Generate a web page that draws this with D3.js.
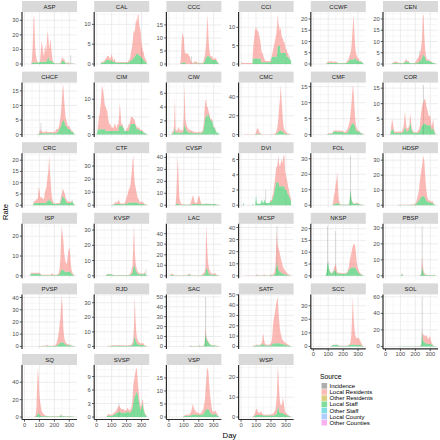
<!DOCTYPE html>
<html><head><meta charset="utf-8">
<script src="https://cdn.jsdelivr.net/npm/d3@7"></script>
<style>body{margin:0;background:#fff}svg{display:block}</style>
</head><body>
<script>
// ---------- DATA ----------
const facilities = ["ASP","CAL","CCC","CCI","CCWF","CEN","CHCF","CIM","CIW","CMC","CMF","COR","CRC","CTF","CVSP","DVI","FOL","HDSP","ISP","KVSP","LAC","MCSP","NKSP","PBSP","PVSP","RJD","SAC","SATF","SCC","SOL","SQ","SVSP","VSP","WSP"];
const tickSteps = [10,5,5,5,5,5, 5,5,2,20,5,5, 5,10,10,2,10,10, 10,10,10,10,5,10, 10,10,10,10,10,20, 20,3,5,10];
const xTicks = [0,100,200,300];
const sources = ["Incidence","Local Residents","Other Residents","Local Staff","Other Staff","Local County","Other Counties"];
const sourceColors = ["#999999","#F8766D","#B79F00","#00BA38","#00BFC4","#619CFF","#F564E3"];
const days = d3.range(0, 340, 5); // observation days (every 5 days, 0..335)

const res_ASP=[0,0,0,0,0,0,0,0,0,0, 2.5,11,29,33,14,6,3,1,0,0, 0,1.5,8.5,14.5,10.5,6.5,3.5,8.5,11.5,6.5, 13,19,13,7,12,15,8,3,1,0, 0.2,0.2,0.2,0.2,0.2,0.2,0.2,0.2,0.7,1.7, 2,3,1,2,1,0.5,0.2,0.7,0.7,0.7, 0.1,0.1,0.1,0.1,0.1,0.1,0.1,0.1];
const staff_ASP=[0,0,0,0,0,0,0,0,0,0, 0.5,1,1,1,1,1,1,1,1,1, 1,1.5,1.5,1.5,1.5,1.5,1.5,1.5,1.5,1.5, 2,4,5,3,2,2,2,2,1,1, 0.3,0.3,0.3,0.3,0.3,0.3,0.3,0.3,0.3,0.3, 2,2,2,2,1,0.5,0.3,0.3,0.3,0.3, 0.2,0.2,0.2,0.2,0.2,0.2,0.2,0.2];
const res_CAL=[0,0,0,0,0,0,0.2,0.2,0.3,0.3, 0.3,0.5,0.5,0.5,1,1,1,0.5,0.5,1, 1.5,1,0.5,0.5,1,0.3,0.2,0.2,0.2,0.2, 0.2,0.2,0.2,0.2,0.2,0.2,0.2,0.2,0.2,0.2, 0.2,0.2,0.3,0.5,0.5,1,2,3,4,6, 7,6,8,9,8,10,10,8,7,6, 4,3,2,2,1,1,0.5,0.5];
const staff_CAL=[0,0,0,0,0,0,0.2,0.3,0.3,0.3, 0.5,0.5,0.8,1,1,1,1,1,0.8,0.8, 1,0.8,0.5,0.5,0.5,0.3,0.3,0.3,0.3,0.3, 0.3,0.3,0.3,0.3,0.3,0.3,0.3,0.3,0.3,0.3, 0.3,0.3,0.3,0.5,0.5,0.8,1,1,1.2,1.5, 1.5,2,2,2.5,2.5,2.5,2.5,2,2,2, 1.5,1.5,1.2,1,0.8,0.5,0.3,0.3];
const res_CCC=[0,0,0,0,0,0,0,0,0,0, 0,0,0,0,0,0,2,7.5,11.5,10.5, 9.5,4.5,3.5,4,4,4,4,3,3,1.5, 1,0.5,0.3,0.3,0.8,0.8,0.8,0.8,0.3,0.3, 0.3,0.3,0.3,0.3,0.3,0.3,0.3,1.5,2,3, 5.5,11,16,7,3,1.5,0.5,1.5,1.5,0.5, 0.5,0.5,0.5,1,0.3,0.3,0.3,0.1];
const staff_CCC=[0,0,0,0,0,0,0,0,0,0, 0,0,0,0,0,0,0,0.5,0.5,0.5, 0.5,0.5,0.5,0,0,0,0,0,0,0, 0,0,0.2,0.2,0.2,0.2,0.2,0.2,0.2,0.2, 0.2,0.2,0.2,0.2,0.2,0.2,0.2,0.5,1,2, 2.5,3,3,3,3,2.5,2.5,1.5,1.5,1.5, 1.5,1.5,1.5,1.5,1.2,0.7,0.2,0.2];
const res_CCI=[0.3,0.5,0.3,0.3,0.3,0.3,0.3,0.3,0.3,0.3, 0.3,0.3,0.3,0.3,0.3,0.3,2.5,4.5,6.5,8.5, 7.5,8.5,7.5,7.5,6.5,5.5,4.5,3.5,2.5,2.5, 1.5,1,0.5,0.3,0.3,0.3,0.3,0.3,0.3,0.3, 1,0,1,2,3,4,5,6,8,8.5, 6,5,4,7,5,4,4,3,3,2, 1,2,1,1,0.5,0.5,0,0];
const staff_CCI=[0.2,0,0,0,0,0,0,0,0,0, 0,0,0,0,0,0,1.5,1.5,1.5,1.5, 1.5,1.5,1.5,1.5,1.5,1.5,1.5,0.5,0.5,0.5, 0.5,0.5,0.5,0.5,0.5,0.5,0.5,0.5,0.5,0.5, 0.5,2,2,2,2,2,2,2,2,5, 5,5,5,3,3,3,3,3,3,3, 3,2,2,2,1.5,1.5,1,1];
const res_CCWF=[0,0,0,0,0,0,0,0,0,0, 0,0,0,0,0,0,0,0,0.2,0.5, 0.8,0.5,0.5,0.8,0.8,0.5,0.5,0.3,0.5,0.8, 0.5,0.3,0.5,0.2,0.2,0.2,0.2,0.2,0.2,0.2, 0.2,0.2,0.2,0.2,0.3,0.5,1,1,1.5,2, 3,5,10,15,20,12,6,3,2,1.5, 1,1,0.5,0.5,0.3,0.2,0.1,0.1];
const staff_CCWF=[0,0,0,0,0,0,0,0,0,0, 0,0,0,0,0,0,0,0,0.2,0.3, 0.5,0.5,0.5,0.5,0.5,0.5,0.5,0.5,0.5,0.5, 0.5,0.5,0.5,0.3,0.3,0.3,0.3,0.3,0.3,0.3, 0.3,0.3,0.3,0.3,0.5,0.5,0.8,1,1.5,2, 2,2,2,2,2,2.5,2.5,2,2,1.5, 1.5,1.5,1,1,1,0.8,0.5,0.3];
const res_CEN=[0,0,0,0,0,0,0,0,0,0.2, 0.3,0.5,0.8,0.5,0.5,0.5,0.5,0.5,0.3,0.3, 0.3,0.2,0.2,0.2,0.3,0.5,0.5,0.8,1,0.5, 0.3,0.5,0.2,0.2,0.2,0.2,0.2,0.2,0.2,0.2, 0.5,1,1.5,2,2,3,3,4,6,9, 17,18,9,4,2,1,0.5,0.5,0.5,0.3, 0.3,0.2,0.2,0.2,0.1,0.1,0.1,0.1];
const staff_CEN=[0,0,0,0,0,0,0,0,0,0.2, 0.3,0.3,0.5,0.5,0.5,0.5,0.3,0.3,0.3,0.3, 0.3,0.3,0.3,0.3,0.3,0.5,0.8,1,1.2,1, 0.8,1,0.5,0.3,0.3,0.3,0.3,0.3,0.3,0.3, 0.3,0.3,0.5,0.5,0.8,1,1,1.5,2,2.5, 4,4,3.5,3,2,1.5,1.5,1.5,1.5,1.2, 1,1,0.8,0.5,0.5,0.3,0.3,0.2];
const res_CHCF=[0,0,0,0,0,0,0,0,0,0, 0,0,0,0,0,0,0,0,0,0, 0.5,1.5,0.5,1,0.3,0.3,0.5,0.3,0.5,1, 0.5,0.3,0.5,0.3,0.3,0.5,0.3,0.5,0.3,0.5, 0.5,0.5,1,1.5,1,1,1,2,3,5, 7,11,12,8,5,3,2,1.5,1,1, 1,0.5,0.5,0.3,0.3,0.2,0.1,0.1];
const staff_CHCF=[0,0,0,0,0,0,0,0,0,0, 0,0,0,0,0,0,0,0,0.2,0.2, 0.5,0.5,0.5,0.5,0.5,0.5,0.5,0.5,0.5,0.5, 0.5,0.5,0.5,0.5,0.5,0.5,0.5,0.5,0.5,0.5, 0.5,0.5,0.5,0.5,0.8,1,1.5,2,2.5,3, 4,4.5,5,4.5,4,3,3,2.5,2,2, 2,1.5,1.5,1,1,0.8,0.5,0.3];
const res_CIM=[0,0,1.5,3.5,4.5,6.5,8.5,12.5,11.5,10.5, 8.5,6.5,7,6,6,4,3,2,2,1.5, 1,1,1,1,2,2,1,1,2,2, 2.5,6.5,3.5,0.5,0.5,0.5,0,0.5,0,0, 0.5,1,1,2,1,1.5,2,2,2,1.5, 1.5,1,0.5,0.5,0.5,0.5,0.5,0.5,0.5,0.3, 0.3,0.3,0.2,0.2,0.1,0.1,0.1,0.1];
const staff_CIM=[0,1,1.5,1.5,1.5,1.5,1.5,1.5,1.5,1.5, 1.5,1.5,1,1,1,1,1,1,1,1, 1,1,1,1,1,1,1,1,1,1, 2.5,2.5,2.5,2.5,2.5,2,2,1,1,1, 1,1,1,1,2,2.5,3,3,3,3, 3,3,2.5,2,1.5,1.5,1.5,1.5,1,1, 1,1,0.8,0.5,0.5,0.3,0.3,0.3];
const res_CIW=[0,0,0,0,0.2,0.3,0.3,1,4.3,0.5, 0.3,0.3,0.5,0.8,0.5,0.3,0.5,0.3,0.3,0.5, 2,5.7,1.5,0.8,0.8,0.5,0.5,0.3,0.5,0.3, 0.3,0.3,0.2,0.3,0.2,0.1,0.2,0.2,0.1,0.1, 0.2,0.2,0.2,0.1,0.2,0.3,0.5,1,2,2.5, 2,1.5,1,0.5,0.5,0.3,0.2,0.3,0.2,0.2, 0.1,0.1,0.1,0.1,0,0,0,0];
const staff_CIW=[0,0,0,0,0.1,0.2,0.2,0.5,1,0.3, 0.3,0.3,0.3,0.3,0.3,0.2,0.3,0.3,0.3,0.3, 0.8,1.5,1,0.8,0.5,0.5,0.3,0.3,0.3,0.3, 0.3,0.3,0.2,0.2,0.2,0.2,0.2,0.2,0.2,0.2, 0.2,0.2,0.2,0.2,0.3,0.3,0.5,1,2,2.5, 3,2.5,3,3,2.5,2.5,2,2,2,1.5, 1,1,0.8,0.5,0.3,0.3,0.2,0.2];
const res_CMC=[0,0,0,0,0.2,0.3,0.2,0.2,0.2,0.2, 0.2,0.2,0.2,0.2,0.2,0.2,0.2,0.2,0.3,0.5, 2,4,6,5,3,1.5,1,0.5,0.3,0.3, 0.3,0.3,0.3,0.3,0.3,0.3,0.3,0.3,0.3,0.3, 0.3,0.3,0.3,0.3,0.5,0.5,1,2,4,8, 14,25,33,48,35,25,12,6,4,3, 2,1.5,1,1,0.5,0.5,0.3,0.3];
const staff_CMC=[0,0,0,0,0.1,0.1,0.1,0.1,0.1,0.1, 0.1,0.1,0.1,0.1,0.1,0.1,0.1,0.1,0.1,0.1, 0.5,1,1,1,0.8,0.5,0.3,0.3,0.2,0.2, 0.2,0.2,0.2,0.2,0.2,0.2,0.2,0.2,0.2,0.2, 0.2,0.2,0.2,0.2,0.3,0.3,0.5,1,1.5,2, 3,3.5,4,4.5,4,3.5,3,2,1.5,1, 1,0.8,0.5,0.5,0.3,0.3,0.2,0.2];
const res_CMF=[0,0,0,0,0,0,0,0,0,0, 0,0,0,0,0,0,0,0,0,0, 0.2,0.2,0.2,0.2,0.2,0.2,0.2,0.3,0.3,0.3, 0.3,0.5,0.3,0.3,0.5,0.3,0.3,0.5,0.3,0.3, 0.3,0.3,0.3,0.5,0.5,1,1,1.5,2,2.5, 4,6,9,12,10,6,3,1.5,1,0.5, 0.5,0.3,0.3,0.2,0.2,0.1,0.1,0.1];
const staff_CMF=[0,0,0,0,0,0,0,0,0,0, 0,0,0,0,0,0,0,0,0.1,0.1, 0.2,0.2,0.3,0.3,0.3,0.3,0.5,0.8,1,1, 1,1,0.8,0.8,1,1,0.8,0.8,0.8,1, 0.8,0.5,0.5,0.5,0.5,0.5,0.8,1,1.5,2, 2.5,3,3.5,3.5,3.5,3,2.5,1.5,1.2,1, 1,0.8,0.8,0.5,0.5,0.3,0.3,0.2];
const res_COR=[0,0,0,0,0,0,0,0.5,2,3, 2,1,0.5,0.5,0.5,0.5,0.5,0.5,0.5,0.5, 0.5,0.5,0.5,1,1,3,5,3,1.5,1, 1,1,1,3,2,1,0.5,0.5,0.3,0.3, 0.3,0.3,0.3,0.5,1,1,2,4,5,6, 7,7,8,8,7,6,5,4,3,3, 3,2,1,2,3,1,0.5,0.3];
const staff_COR=[0,0,0,0,0,0,0,0.5,1.5,2, 1.5,1,0.5,0.5,0.5,0.5,0.5,0.5,0.5,0.5, 0.5,0.5,0.5,0.8,1,1.5,2.5,2,1,1, 1,1.5,2,4,3,1.5,1,0.8,0.5,0.5, 0.5,0.5,0.5,0.5,0.5,0.8,1,1.5,2.5,3, 3,3.5,3.5,3.5,3.5,3,3,3,3,3, 3,2,1.5,2,2,1,0.5,0.3];
const res_CRC=[0,0,0,0,0,0,0,0,0,0, 0,0,0.5,1,1,1,1.5,2,2,7, 6,3,2,3,2,2,1.5,4,6,6, 8,11,13,19,14,9,4,2,1,0.5, 0.3,0.3,0.3,0.5,0.5,0.5,0.5,0.5,1,2, 2,3,3,3,2,1.5,1,1,1,0.5, 0.5,0.5,0.5,0.3,0.3,0.2,0.1,0.1];
const staff_CRC=[0,0,0,0,0,0,0,0,0,0, 0,0,0.5,1,1,1,1,1,1,1, 1,1,1,1,1,1,1,1,1,1, 1.5,2,2,3,2,2,1.5,1,1,0.5, 0.5,0.5,0.5,0.5,0.5,0.5,0.5,0.5,1,2, 3,4,4,3,3,2,1.5,1,1,1, 1,1,1,1.5,2,1,0.5,0.3];
const res_CTF=[0,0,0,0,0,0,0,0,0,0, 0,0,0,0,0,0,0,0,0,0, 0.2,0.2,0.3,0.5,1,1.5,1.5,1,1.5,3, 2.5,1,0.5,0.5,0.5,0.5,0.5,0.5,1,3, 5,6,8,10,11,13,18,24,32,36, 22,15,12,9,6,4,3,2,1.5,1, 1.5,2,1.5,1,0.5,0.5,0.3,0.3];
const staff_CTF=[0,0,0,0,0,0,0,0,0,0, 0,0,0,0,0,0,0,0,0,0, 0.2,0.2,0.3,0.5,0.8,0.8,1,1,1,1, 1,1,0.8,0.8,0.8,0.8,0.8,0.8,1,1, 1,1.5,1.5,2,2,2,2,2,2,2, 2,2,2,2,2,1.5,1.5,1.2,1,1, 1,1,1,0.8,0.5,0.5,0.3,0.3];
const res_CVSP=[0,0,0,0,0,0,0,0,0,0.5, 8,25,40,20,6,3,1.5,1,0.5,0.5, 0.3,0.3,0.3,0.3,0.3,0.3,0.3,0.3,0.5,1, 3,5,7,6,3,1.5,1,1,2,5, 7,6,3,1,0.5,0.3,0.3,0.3,0.3,0.3, 0.3,0.3,0.3,0.3,0.3,0.3,0.3,0.3,0.3,0.3, 0.3,0.3,0.2,0.2,0.2,0.1,0.1,0.1];
const staff_CVSP=[0,0,0,0,0,0,0,0,0,0.2, 1,1.5,1.5,1,0.5,0.3,0.3,0.3,0.3,0.3, 0.3,0.3,0.3,0.3,0.3,0.3,0.3,0.3,0.3,0.3, 0.5,1,1,1,1,0.8,0.8,0.8,1,1, 1,1,1,1,0.8,0.8,0.8,0.8,1,1, 1,1,1,1,1,1,0.8,0.8,0.8,0.8, 1,1,0.8,0.8,0.5,0.5,0.3,0.3];
const res_DVI=[0,0,0,0,0,0,0,0,0,0, 0,0,0,0,0,0,0,0,0,0, 0,0,0,0,0,0,0,0,0,0, 0,0,0,0,0,0,0,0,0,0.2, 0.2,0.2,0.5,0.5,1,1,1.5,2,2,2.5, 3.5,3,2.5,3,3.5,3,3.5,4,4,2.5, 2,1.5,1.5,1,0.8,0.5,0.3,0.3];
const staff_DVI=[0,0,0,0.3,0,0,0,0,0,0, 0,0,0,0,0,0,0.2,0,0,0, 1.3,0.3,0.2,0.2,0.2,0.2,0.2,0.5,0.8,0.3, 0.3,0.8,0.5,0.3,0.3,0.3,0.3,0.3,0.3,0.5, 0.5,0.5,0.8,1,1.5,2,2.5,3,3,3, 3,2.5,2.5,2.5,2.5,2.5,2.5,2.5,2.5,2, 2,2,1.5,1.5,1.2,1,0.8,0.5];
const res_FOL=[0,0,0,0,0,0,0,0,0,0, 0,0,0,0,0,0,0,0,0,0, 0,0,0,0,0,0,0.5,3,6,8, 13,15,20,12,4,1,0.3,0.3,0.2,0.2, 0.2,0.2,0.2,0.2,0.2,0.2,0.2,0.2,0.2,0.5, 0.5,1,0.5,0.5,0.3,0.3,0.3,0.5,0.5,0.5, 0.5,0.3,0.3,0.2,0.2,0.1,0.1,0.1];
const staff_FOL=[0,0,0,0,0,0,0,0,0,0, 0,0,0,0,0,0,0,0,0,0, 0,0,0,0,0,0,0.2,0.5,1,1, 1,1,1.5,1.5,1,0.8,0.3,0.3,0.3,0.3, 0.3,0.3,0.3,0.3,0.3,0.3,0.3,0.3,0.5,5, 9.5,4,2,1.5,1,0.8,0.8,1,1.2,1, 0.8,0.8,0.5,0.5,0.3,0.3,0.2,0.2];
const res_HDSP=[0,0,0,0,0,0,0,0,0,0, 0,0,0,0,0,0,0,0.2,0.2,0.2, 0.2,0.2,0.2,0.2,0.2,0.2,0.2,0.2,0.2,0.2, 0.2,0.2,0.2,0.2,0.2,0.2,0.2,0.2,0.3,0.5, 0.5,1,2,4,5,8,12,15,18,20, 24,27,24,16,10,6,3,2,1.5,1, 1,1,1,1.5,0.5,0.3,0.2,0.1];
const staff_HDSP=[0,0,0,0,0,0,0,0,0,0, 0,0,0,0,0,0,0,0.1,0.1,0.1, 0.1,0.1,0.1,0.1,0.1,0.1,0.1,0.1,0.1,0.1, 0.1,0.1,0.1,0.1,0.2,0.2,0.2,0.2,0.3,0.5, 0.5,1,1.5,2,3,3,4,5,5.5,6, 6,6,5.5,5,4,3,2.5,2,2,2, 2,1.5,1.5,1.5,1,0.5,0.3,0.2];
const res_ISP=[0,0,0,0,0,0,0,0,0.3,0.5, 0.5,0.5,0.5,0.5,0.5,0.5,0.5,0.5,0.5,0.5, 0.5,0.5,0.3,0.2,0.2,0.2,0.2,0.2,0.2,0.2, 0.2,0.2,0.2,0.2,0.2,0.3,0.5,1,0.5,0.3, 0.3,0.3,0.3,0.3,0.5,0.5,1,3,6,15, 22,18,15,10,7,5,4,5,8,11, 12,10,5,2,1,0.5,0.3,0.2];
const staff_ISP=[0,0,0,0,0,0,0,0,0.5,1, 1,1,1,1,1,1,1,1,1,1, 1,0.8,0.5,0.3,0.3,0.3,0.3,0.3,0.3,0.3, 0.3,0.3,0.3,0.3,0.3,0.3,0.3,0.5,0.3,0.3, 0.3,0.3,0.3,0.3,0.3,0.5,0.5,1,2,3, 3,3,3,2.5,2,2,2,2,2,2, 2,2,1.5,1,0.8,0.5,0.3,0.2];
const res_KVSP=[0,0,0,0,0,0,0,0,0,0, 0,0,0,0.2,0.3,0.3,0.3,0.3,0.3,0.3, 0.3,0.3,0.2,0.2,0.2,0.2,0.2,0.2,0.2,0.2, 0.2,0.2,0.2,0.2,0.2,0.2,0.2,0.2,0.2,0.2, 0.2,0.2,0.3,0.3,0.5,1,1.5,3,5,14, 25,10,5,3,2,1.5,1,1,0.5,0.5, 0.5,0.5,0.5,0.3,0.8,0.3,0.2,0.1];
const staff_KVSP=[0,0,0,0,0,0,0,0,0,0, 0,0,0,0.5,0.8,1,1,1,1,0.8, 0.8,0.5,0.5,0.3,0.3,0.3,0.3,0.3,0.3,0.3, 0.3,0.3,0.3,0.3,0.3,0.3,0.3,0.3,0.3,0.3, 0.3,0.3,0.3,0.3,0.5,0.5,1,1.5,2,5, 7.5,6,4,3,2,1.5,1,1,1,1, 1,1,1,1,2,0.8,0.5,0.3];
const res_LAC=[0,0,0.5,1,1.5,1,0.8,0.5,0.3,0.3, 0.3,0.3,0.3,0.3,0.3,0.3,0.3,0.3,0.3,0.3, 0.3,0.3,0.3,0.3,0.3,0.5,0.8,1,1,0.5, 0.3,0.3,0.3,0.3,0.3,0.3,0.3,0.3,0.3,0.3, 0.3,0.3,0.3,0.3,0.5,1,1.5,2,3,5, 40,25,12,7,4,3,2,1.5,1,1, 1,1.5,2,1,0.5,0.5,0.3,0.2];
const staff_LAC=[0,0,0.5,1,1,0.8,0.5,0.3,0.2,0.2, 0.2,0.2,0.2,0.2,0.2,0.2,0.2,0.2,0.2,0.2, 0.2,0.2,0.2,0.2,0.3,0.5,0.8,1,1,0.5, 0.3,0.3,0.3,0.3,0.3,0.3,0.3,0.3,0.3,0.3, 0.3,0.3,0.3,0.3,0.5,0.5,0.8,1,1.5,3, 7,7,5,3,2,1.5,1,1,1,1, 1,1,1,0.8,0.5,0.3,0.3,0.2];
const res_MCSP=[0,0,0,0,0,0.2,0.2,0.2,0.2,0.2, 0.2,0.2,0.2,0.2,0.2,0.2,0.2,0.2,0.2,0.2, 0.3,0.5,0.8,0.5,0.3,0.3,0.3,0.3,0.3,0.3, 0.5,0.8,0.5,0.3,0.3,0.3,0.3,0.3,0.3,0.5, 0.8,0.5,0.5,0.8,1,3,6,18,24,18, 18,17,15,12,10,8,6,5,4,3, 2.5,2,1.5,1,0.8,0.5,0.3,0.2];
const staff_MCSP=[0,0,0,0,0,0.1,0.1,0.1,0.1,0.1, 0.1,0.1,0.1,0.1,0.1,0.1,0.1,0.1,0.1,0.1, 0.2,0.3,0.5,0.3,0.2,0.2,0.2,0.2,0.2,0.2, 0.3,0.5,0.3,0.2,0.2,0.2,0.2,0.2,0.2,0.3, 0.5,0.3,0.3,0.5,0.8,1,2,6,12,7, 5,4,3.5,3,2.5,2,1.5,1.5,1,1, 1,0.8,0.5,0.5,0.3,0.3,0.2,0.2];
const res_NKSP=[0,0,0,0,0,0,0,0,0,0, 0,0,0,0,0,0,0,0,0,0.2, 0.5,0.3,0.2,0.2,0.2,0.3,0.5,0.5,1,2, 3,1.5,0.5,0.5,0.3,0.3,0.3,0.3,0.3,0.3, 0.3,0.3,0.3,0.3,0.3,0.5,0.5,1,2,4, 5,6,8,9,10,10,9,7,4,2, 1.5,1,0.5,0.5,0.3,0.3,0.2,0.1];
const staff_NKSP=[0,0,0,0,0,0,0,0,0,0, 0,0,0,0,0,0,0,0.5,2,5, 6,3,2,1.5,1,1,1.5,1.5,3,2, 2,1.5,1,1,1,1,1,1,0.8,0.8, 0.8,0.8,0.8,0.8,1,1,1.5,2,2.5,3, 3,3.5,3.5,3.5,3.5,3.5,3.5,3,2.5,2, 1.5,1,1,0.8,0.5,0.3,0.3,0.2];
const res_PBSP=[0,0,0,0,0,0,0,0,0,0, 0,0,0,0,0,0,0,0,0,0, 0,0,0.3,0.3,0,0,0,0,0,0, 0,0,0,0,0,0,0,0,0,0, 0,0,0,0,0,0,0.2,0.3,0.5,6, 3,1.5,1,0.5,0.3,0.3,0.2,0.2,0.2,0.2, 0.2,0.2,0.2,0.1,0.1,0.5,0.1,0.1];
const staff_PBSP=[0,0,0,0,0,0,0,0,0,0, 0,0,0,0,0,0,0,0,0,0, 0,0.3,1.5,0.5,0,0,0,0,0,0, 0,0,0,0,0,0,0,0,0,0, 0,0,0,0,0,0,0.2,0.5,1,6, 3,1.5,1,0.5,0.5,0.5,0.3,0.3,0.3,0.3, 0.3,0.3,0.3,0.3,0.3,0.5,0.3,0.2];
const res_PVSP=[0,0,0,0,0,0,0,0,0,0, 0,0,0,0,0,0,0,0,0,0, 0.2,0.2,0.2,0.2,0.3,0.3,0.3,0.3,0.3,0.5, 1,0.5,0.3,0.3,0.3,0.3,0.3,0.3,0.3,0.3, 0.5,0.5,1,2,4,6,10,15,20,30, 37,28,12,6,3,2,1.5,1,1,0.5, 0.5,0.5,0.5,0.3,0.3,0.2,0.1,0.1];
const staff_PVSP=[0,0,0,0,0,0,0,0,0,0, 0,0,0,0,0,0,0,0,0.1,0.1, 0.2,0.2,0.2,0.2,0.2,0.2,0.2,0.2,0.2,0.2, 0.3,0.3,0.3,0.3,0.3,0.3,0.3,0.3,0.3,0.3, 0.3,0.3,0.5,0.5,1,1.5,2,2.5,3,3, 3.5,3.5,3,2.5,2,1.5,1.2,1,1,1, 1,0.8,0.8,0.5,0.5,0.3,0.3,0.2];
const res_RJD=[0,0,0,0,0,0,0,0,0,0, 0,0,0,0,0,0.2,0.2,0.2,0.2,0.2, 0.3,0.3,0.3,0.5,0.3,0.5,0.3,0.3,0.5,0.3, 0.5,0.3,0.3,0.5,0.3,0.3,0.5,0.3,0.3,0.5, 0.3,0.3,0.3,0.5,0.5,0.5,0.5,1,1.5,3, 8,27,14,7,4,3,2,1.5,1.5,1, 1,1,1.5,1,0.5,0.3,0.2,0.1];
const staff_RJD=[0,0,0,0,0,0,0,0,0,0, 0,0,0,0,0,0.2,0.2,0.2,0.2,0.2, 0.3,0.5,0.3,0.5,0.5,0.3,0.5,0.3,0.5,0.5, 0.5,0.5,0.3,0.5,0.5,0.3,0.5,0.5,0.3,0.3, 0.3,0.3,0.3,0.5,0.5,0.5,0.5,0.8,1,2, 5,7,5,3,2,1.5,1.5,1,1,1, 1,1,1,0.8,0.5,0.3,0.2,0.2];
const res_SAC=[0,0,0,0,0,0,0,0,0,0, 0,0,0,0,0,0,0,0,0,0, 0,0,0,0,0,0,0,0,0.2,0.2, 0.2,0.2,0.2,0.2,0.2,0.2,0.2,0.2,0.2,0.2, 0.3,0.5,0.3,0.2,0.2,0.2,0.3,0.5,1.5,6, 3,2,1.5,1,0.8,0.5,0.5,0.3,0.3,0.2, 0.2,0.2,0.2,0.1,0.1,0.1,0.1,0.1];
const staff_SAC=[0,0,0,0,0,0,0,0,0,0, 0,0,0,0,0,0,0,0,0,0, 0,0,0,0,0,0,0,0.2,0.3,0.5, 0.5,0.3,0.3,0.3,0.3,0.3,0.3,0.3,0.3,0.3, 0.5,1,0.5,0.3,0.3,0.3,0.5,0.8,3,14, 8,6,5,4,3,2,1.5,1.2,1,1, 1,1,0.8,0.8,0.5,0.5,0.3,0.3];
const res_SATF=[0,0,0,0,0,0,0,0,0,0, 0,0,0,0,0,0,0.2,0.3,0.3,0.3, 0.5,0.5,0.5,0.3,0.3,0.5,0.8,1.5,2,8, 10,4,1.5,1,0.5,0.5,0.5,0.5,1,1, 2,4,10,20,25,28,33,38,42,45, 30,22,14,10,7,5,4,3,2.5,2, 2,1.5,1,0.8,0.5,0.3,0.2,0.2];
const staff_SATF=[0,0,0,0,0,0,0,0,0,0, 0,0,0,0,0,0,0.3,0.5,0.5,0.5, 1,1,1,0.8,0.8,1,1,1.5,1.5,2, 2,1.5,1,1,1,1,1,1,1,1, 1,1.5,2,2.5,3,3,3,3,3,3, 3,3,3,2.5,2.5,2,2,2,1.5,1.5, 1.5,1,1,1,0.8,0.5,0.3,0.3];
const res_SCC=[0,0,0,0,0,0,0,0,0,0, 0,0,0,0,0,0,0,0,0,0, 0,0,0,0,0.2,0.2,0.2,0.2,0.2,0.2, 0.2,0.2,0.2,0.2,0.2,0.2,0.2,0.2,0.2,0.2, 0.2,0.2,0.2,0.2,0.2,0.2,0.3,0.3,0.5,1, 2,8,20,35,20,12,8,6,5,5, 5,5.5,4,3,2,1,0.5,0.3];
const staff_SCC=[0,0,0,0,0,0,0,0,0,0, 0,0,0,0,0,0,0,0,0,0, 0,0,0,0,0.3,0.5,0.8,1,1,1, 1,1.2,1,0.8,0.5,0.5,0.3,0.3,0.3,0.3, 0.3,0.3,0.3,0.3,0.3,0.3,0.5,0.5,0.8,1, 1,1,1.5,1.5,1.5,1.5,1,1,1,1, 1,1,1,1,0.8,0.5,0.3,0.2];
const res_SOL=[0,0,0,0,0,0,0,0,0,0, 0,0,0,0,0,0,0,0,0,0, 0,0,0,0,0,0,0,0,0,0, 0,0,0,0,0,0,0,0,0.2,0.2, 0.2,0.2,0.2,0.2,0.2,0.2,0.2,0.3,0.5,2, 6,8,9,8,9,10,8,6,7,9, 8,4,2,1,0.5,0.3,0.2,0.1];
const staff_SOL=[0,0,0,0,0,0,0,0,0,0, 0,0,0,0,0,0,0,0,0.2,0.2, 0.2,0.3,0.2,0.2,0.2,0.2,0.2,0.2,0.2,0.2, 0.2,0.2,0.2,0.2,0.2,0.2,0.2,0.2,0.2,0.2, 0.2,0.2,0.2,0.2,0.2,0.3,0.5,0.8,2,18, 8,6,5,4,4,3.5,3,3,3,3, 3,2.5,2,1.5,1,0.5,0.3,0.2];
const res_SQ=[0,0,0,0,0,0,0,0,0,0, 0,0,0,0,0.5,2,10,35,52,40, 22,15,10,6,4,3,2,1.5,1,0.8, 0.5,0.5,0.5,0.3,0.3,0.3,0.3,0.3,0.3,0.3, 0.3,0.3,0.3,0.3,0.3,0.3,0.5,0.5,1,0.5, 0.5,0.3,0.3,0.3,0.3,0.3,0.3,0.3,0.3,0.3, 0.3,0.3,0.3,0.2,0.2,0.2,0.1,0.1];
const staff_SQ=[0,0,0,0,0,0,0,0,0,0, 0,0,0,0,0.3,0.5,1,3,5,4, 3,2,1.5,1,1,0.8,0.8,0.8,0.8,0.8, 0.8,0.8,0.8,0.5,0.5,0.5,0.5,0.5,0.5,0.5, 0.5,0.5,0.5,0.5,0.5,0.5,0.5,0.8,1,3, 1,0.8,0.8,0.8,0.5,0.5,0.5,0.5,0.5,0.5, 0.5,0.5,0.5,0.5,0.3,0.3,0.2,0.2];
const res_SVSP=[0,0,0,0,0,0,0,0,0,0, 0,0,0,0,0.2,0.3,0.3,0.3,0.2,0.2, 0.2,0.2,0.3,0.5,0.5,0.5,0.5,0.8,1,1.5, 1.2,1,1,0.8,0.8,1,0.8,0.5,0.5,0.5, 0.5,0.8,0.8,0.5,0.5,0.5,0.8,1,2,4, 4,4.5,5,5.5,5,3,2,1.5,1,0.8, 0.8,1,1,0.5,0.3,0.2,0.2,0.1];
const staff_SVSP=[0,0,0,0,0,0,0,0,0,0, 0,0,0,0,0.2,0.3,0.3,0.3,0.3,0.3, 0.3,0.3,0.5,0.5,0.5,0.8,0.8,1,1,1, 1.2,1.2,1,1,1,0.8,1,1,1,1, 1,1.2,1.2,1,1,1,1.2,1.5,2,3, 4,4.5,5,5.5,5.5,5,4,3,2,1.5, 2,3,2.5,1.5,1,0.5,0.3,0.2];
const res_VSP=[0,0,0,0,0,0,0,0,0,0, 0,0,0,0,0,0,0,0,0,0, 0.2,0.3,0.3,0.5,0.5,0.5,0.3,0.5,0.8,1, 1.5,2.5,4,3,2,1.5,1,1,1,0.8, 0.8,0.5,0.5,0.8,1,1.5,2,3,4,7, 11,15,16,14,10,7,5,3,1.5,1, 1,1,1,1.2,0.8,0.5,0.3,0.2];
const staff_VSP=[0,0,0,0,0,0,0,0,0,0, 0,0,0,0,0,0,0,0,0,0.1, 0.2,0.3,0.5,0.5,0.5,0.5,0.5,0.5,0.5,0.5, 0.8,1,1,1,1,1,1,0.8,0.8,0.8, 0.8,0.8,0.8,0.8,1,1,1,1.5,2,2.5, 3,3,3,3,2.5,2,1.5,1.2,1,1, 1,1,1.5,1,0.8,0.5,0.3,0.2];
const res_WSP=[0,0,0,0,0,0,0,0,0,0, 0,0,0,0,0,0,0.2,0.3,1,1.5, 3,3,2,1.5,1,1,1.5,2,1,0.5, 0.5,0.3,0.3,0.3,0.3,0.3,0.3,0.3,0.5,0.5, 0.5,0.5,0.8,1,1.5,2,3,6,9,20, 16,10,6,4,4,5,8,6,3,1.5, 1,0.8,0.5,0.3,0.3,0.2,0.2,0.1];
const staff_WSP=[0,0,0,0,0,0,0,0,0,0, 0,0,0,0,0,0,0.2,0.3,0.5,0.8, 1,1,1,1,1,1,1,1,1,0.8, 0.8,0.8,0.8,0.8,0.8,0.8,0.8,0.8,0.8,0.8, 0.8,0.8,0.8,0.8,0.8,1,1,1.5,2,5, 5,3,2,2,2,2,2,1.5,1.5,1, 1,1,0.8,0.8,0.5,0.3,0.3,0.2];

// Incidence: isolated daily spikes [facility, day, rate]
const incidenceSpikes = [["ASP",310,6],["CAL",300,4],["CCC",150,3],["CEN",230,6],["CHCF",110,4],["COR",255,16],["DVI",165,2],["FOL",250,32],["MCSP",240,41],["NKSP",95,21],["NKSP",150,19],["PBSP",245,31],["SAC",245,50],["SOL",245,60],["SVSP",150,3],["KVSP",330,4]];

const residentsSeries = [res_ASP,res_CAL,res_CCC,res_CCI,res_CCWF,res_CEN,res_CHCF,res_CIM,res_CIW,res_CMC,res_CMF,res_COR,res_CRC,res_CTF,res_CVSP,res_DVI,res_FOL,res_HDSP,res_ISP,res_KVSP,res_LAC,res_MCSP,res_NKSP,res_PBSP,res_PVSP,res_RJD,res_SAC,res_SATF,res_SCC,res_SOL,res_SQ,res_SVSP,res_VSP,res_WSP];
const staffSeries = [staff_ASP,staff_CAL,staff_CCC,staff_CCI,staff_CCWF,staff_CEN,staff_CHCF,staff_CIM,staff_CIW,staff_CMC,staff_CMF,staff_COR,staff_CRC,staff_CTF,staff_CVSP,staff_DVI,staff_FOL,staff_HDSP,staff_ISP,staff_KVSP,staff_LAC,staff_MCSP,staff_NKSP,staff_PBSP,staff_PVSP,staff_RJD,staff_SAC,staff_SATF,staff_SCC,staff_SOL,staff_SQ,staff_SVSP,staff_VSP,staff_WSP];

// ---------- LAYOUT ----------
const font = "'Liberation Sans', Arial, Helvetica, sans-serif";
const nCol = 6, panelW = 55, panelH = 54.5, stripH = 11;
const colPitch = 72.2, rowPitch = 70.6, left0 = 22, top0 = 1;
const colorOf = d3.scaleOrdinal().domain(sources).range(sourceColors);

const svg = d3.select("body").append("svg").attr("width", 440).attr("height", 440)
  .style("font-family", font);

const ext = d3.extent(days), padX = 0.05 * (ext[1] - ext[0]);
const x = d3.scaleLinear().domain([ext[0] - padX, ext[1] + padX]).range([0, panelW]);

const stack = d3.stack().keys(["Local Staff", "Local Residents"]);
const N = facilities.length;

facilities.forEach((fac, i) => {
  const col = i % nCol, row = Math.floor(i / nCol);
  const g = svg.append("g").attr("transform", `translate(${left0 + col * colPitch},${top0 + row * rowPitch})`);
  const rows = days.map((d, k) => ({ day: d, "Local Staff": staffSeries[i][k] || 0, "Local Residents": residentsSeries[i][k] || 0 }));
  const layers = stack(rows);
  const spikes = incidenceSpikes.filter(s => s[0] === fac);
  const maxV = Math.max(d3.max(rows, r => r["Local Staff"] + r["Local Residents"]), d3.max(spikes, s => s[2]) || 0);
  const y = d3.scaleLinear().domain([-0.05 * maxV, 1.05 * maxV]).range([panelH, 0]);
  const step = tickSteps[i];
  const yt = d3.range(0, maxV * 1.05 + 1e-9, step);
  const ytMinor = d3.range(step / 2, maxV * 1.05, step);

  // strip
  g.append("rect").attr("width", panelW).attr("height", stripH).attr("fill", "#d9d9d9");
  g.append("text").attr("x", panelW / 2).attr("y", stripH / 2).attr("dy", "0.36em")
    .attr("text-anchor", "middle").attr("font-size", 6).attr("fill", "#1a1a1a").text(fac);

  const p = g.append("g").attr("transform", `translate(0,${stripH})`);
  // grid
  const xMinor = [50, 150, 250];
  p.selectAll(".gxm").data(xMinor).join("line").attr("x1", d => x(d)).attr("x2", d => x(d))
    .attr("y1", 0).attr("y2", panelH).attr("stroke", "#f0f0f0").attr("stroke-width", 0.5);
  p.selectAll(".gym").data(ytMinor).join("line").attr("y1", d => y(d)).attr("y2", d => y(d))
    .attr("x1", 0).attr("x2", panelW).attr("stroke", "#f0f0f0").attr("stroke-width", 0.5);
  p.selectAll(".gx").data(xTicks).join("line").attr("x1", d => x(d)).attr("x2", d => x(d))
    .attr("y1", 0).attr("y2", panelH).attr("stroke", "#e8e8e8").attr("stroke-width", 0.8);
  p.selectAll(".gy").data(yt).join("line").attr("y1", d => y(d)).attr("y2", d => y(d))
    .attr("x1", 0).attr("x2", panelW).attr("stroke", "#e8e8e8").attr("stroke-width", 0.8);

  // incidence spikes
  p.selectAll(".inc").data(spikes).join("rect")
    .attr("x", s => x(s[1]) - 0.4).attr("width", 0.8)
    .attr("y", s => y(s[2])).attr("height", s => y(0) - y(s[2]))
    .attr("fill", colorOf("Incidence")).attr("opacity", 0.45);

  // stacked areas
  const area = d3.area().x(d => x(d.data.day)).y0(d => y(d[0])).y1(d => y(d[1]));
  p.selectAll(".layer").data(layers).join("path")
    .attr("d", area).attr("fill", d => colorOf(d.key)).attr("fill-opacity", 0.5);

  // y axis
  p.append("line").attr("x1", 0).attr("x2", 0).attr("y1", 0).attr("y2", panelH)
    .attr("stroke", "#2b2b2b").attr("stroke-width", 1.2);
  yt.forEach(t => {
    p.append("line").attr("x1", -2.2).attr("x2", 0).attr("y1", y(t)).attr("y2", y(t))
      .attr("stroke", "#333").attr("stroke-width", 0.8);
    p.append("text").attr("x", -3.4).attr("y", y(t)).attr("dy", "0.35em")
      .attr("text-anchor", "end").attr("font-size", 5.8).attr("fill", "#4d4d4d").text(t);
  });

  // x axis for bottom panels of each column
  if (i + nCol >= N) {
    p.append("line").attr("x1", 0).attr("x2", panelW).attr("y1", panelH).attr("y2", panelH)
      .attr("stroke", "#2b2b2b").attr("stroke-width", 1.2);
    xTicks.forEach(t => {
      p.append("line").attr("x1", x(t)).attr("x2", x(t)).attr("y1", panelH).attr("y2", panelH + 2.2)
        .attr("stroke", "#333").attr("stroke-width", 0.8);
      p.append("text").attr("x", x(t)).attr("y", panelH + 7.6)
        .attr("text-anchor", "middle").attr("font-size", 5.8).attr("fill", "#4d4d4d").text(t);
    });
  }
});

// axis titles
svg.append("text").attr("transform", "translate(7.5,212) rotate(-90)").attr("text-anchor", "middle")
  .attr("font-size", 7.6).attr("fill", "#000").text("Rate");
svg.append("text").attr("x", 229.5).attr("y", 437.5).attr("text-anchor", "middle")
  .attr("font-size", 7.8).attr("fill", "#000").text("Day");

// legend
const lg = svg.append("g").attr("transform", "translate(320,0)");
lg.append("text").attr("x", 0).attr("y", 378.5).attr("font-size", 6.8).attr("fill", "#000").text("Source");
sources.forEach((s, k) => {
  const cy = 385.8 + k * 6.15;
  lg.append("rect").attr("x", 1.5).attr("y", cy - 2.8).attr("width", 5.6).attr("height", 5.6)
    .attr("fill", colorOf(s)).attr("fill-opacity", s === "Incidence" ? 0.8 : 0.5);
  lg.append("text").attr("x", 9.5).attr("y", cy).attr("dy", "0.35em")
    .attr("font-size", 6).attr("fill", "#000").text(s);
});
</script>
</body></html>
